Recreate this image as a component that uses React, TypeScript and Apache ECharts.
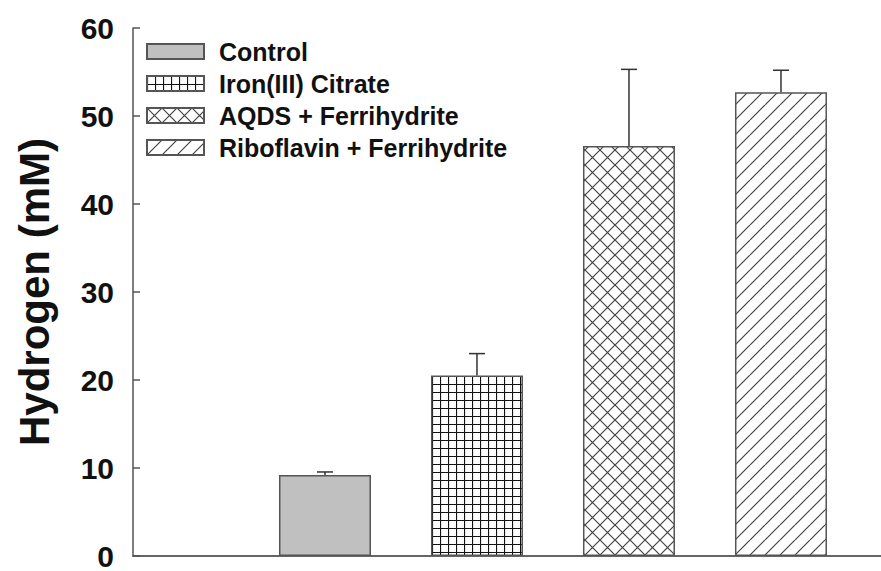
import React, { useEffect, useRef } from "react";
import * as echarts from "echarts";

const seriesNames = ["Control", "Iron(III) Citrate", "AQDS + Ferrihydrite", "Riboflavin + Ferrihydrite"];
const xPositions = [1, 2, 3, 4];
const hydrogenMeans = [9.2, 20.5, 46.6, 52.7];
const hydrogenErrors = [0.35, 2.5, 8.7, 2.5];
const yTicks = [0, 10, 20, 30, 40, 50, 60];

function makeTile(size: number, draw: (ctx: CanvasRenderingContext2D, s: number) => void) {
  const c = document.createElement("canvas");
  c.width = size;
  c.height = size;
  const ctx = c.getContext("2d")!;
  ctx.fillStyle = "#ffffff";
  ctx.fillRect(0, 0, size, size);
  draw(ctx, size);
  return c;
}

export default function App() {
  const ref = useRef<HTMLDivElement>(null);
  useEffect(() => {
    if (!ref.current) return;
    const chart = echarts.init(ref.current, undefined, { renderer: "svg" });

    const gridTile = makeTile(8, (ctx, s) => {
      ctx.strokeStyle = "#111";
      ctx.lineWidth = 1.2;
      ctx.beginPath();
      ctx.moveTo(0.5, 0);
      ctx.lineTo(0.5, s);
      ctx.moveTo(0, 0.5);
      ctx.lineTo(s, 0.5);
      ctx.stroke();
    });
    const crossTile = makeTile(15, (ctx, s) => {
      ctx.strokeStyle = "#444";
      ctx.lineWidth = 1.2;
      ctx.beginPath();
      for (const dx of [-s, 0, s]) {
        ctx.moveTo(dx, 0);
        ctx.lineTo(dx + s, s);
        ctx.moveTo(dx, s);
        ctx.lineTo(dx + s, 0);
      }
      ctx.stroke();
    });
    const diagTile = makeTile(15, (ctx, s) => {
      ctx.strokeStyle = "#444";
      ctx.lineWidth = 1.2;
      ctx.beginPath();
      for (const dx of [-s, 0, s]) {
        ctx.moveTo(dx, s);
        ctx.lineTo(dx + s, 0);
      }
      ctx.stroke();
    });

    const fills: any[] = [
      "#c0c0c0",
      { image: gridTile, repeat: "repeat" },
      { image: crossTile, repeat: "repeat" },
      { image: diagTile, repeat: "repeat" },
    ];

    const barSeries = seriesNames.map((name, i) => ({
      name,
      type: "bar",
      barWidth: 92,
      barGap: "-100%",
      data: [[xPositions[i], hydrogenMeans[i]]],
      itemStyle: { color: fills[i], borderColor: "#555", borderWidth: 1.5 },
      z: 2,
    }));

    const errData = xPositions.map((x, i) => [x, hydrogenMeans[i], hydrogenMeans[i] + hydrogenErrors[i]]);

    const option: any = {
      animation: false,
      backgroundColor: "#ffffff",
      grid: { left: 133, right: 0, top: 28, bottom: 11, containLabel: false },
      legend: {
        data: seriesNames,
        orient: "vertical",
        left: 141,
        top: 34,
        itemWidth: 57,
        itemHeight: 15,
        itemGap: 7,
        icon: "rect",
        textStyle: {
          fontFamily: "Liberation Sans, Arial, sans-serif",
          fontWeight: "bold",
          fontSize: 25,
          lineHeight: 25,
          color: "#111",
          padding: [0, 0, 0, 10],
        },
      },
      xAxis: {
        type: "value",
        min: -0.263,
        max: 4.658,
        axisLine: { show: true, onZero: false, lineStyle: { color: "#666", width: 2 } },
        axisTick: { show: false },
        axisLabel: { show: false },
        splitLine: { show: false },
      },
      yAxis: {
        type: "value",
        min: yTicks[0],
        max: yTicks[yTicks.length - 1],
        interval: 10,
        name: "Hydrogen (mM)",
        nameLocation: "middle",
        nameGap: 78,
        nameTextStyle: {
          fontFamily: "Liberation Sans, Arial, sans-serif",
          fontWeight: "bold",
          fontSize: 42,
          color: "#111",
        },
        axisLine: { show: true, onZero: false, lineStyle: { color: "#555", width: 1.5 } },
        axisTick: { show: true, inside: true, length: 7, lineStyle: { color: "#555", width: 1.5 } },
        axisLabel: {
          margin: 19,
          fontFamily: "Liberation Sans, Arial, sans-serif",
          fontWeight: "bold",
          fontSize: 30,
          color: "#111",
        },
        splitLine: { show: false },
      },
      series: [
        ...barSeries,
        {
          type: "custom",
          name: "err",
          z: 3,
          data: errData,
          encode: { x: 0, y: [1, 2] },
          renderItem: (params: any, api: any) => {
            const x = api.value(0);
            const p0 = api.coord([x, api.value(1)]);
            const p1 = api.coord([x, api.value(2)]);
            const half = 8;
            const st = { stroke: "#333", lineWidth: 1.5 };
            return {
              type: "group",
              children: [
                { type: "line", shape: { x1: p0[0], y1: p0[1], x2: p1[0], y2: p1[1] }, style: st },
                { type: "line", shape: { x1: p1[0] - half, y1: p1[1], x2: p1[0] + half, y2: p1[1] }, style: st },
              ],
            };
          },
        },
      ],
    };
    chart.setOption(option);
    return () => chart.dispose();
  }, []);
  return <div ref={ref} style={{ position: "fixed", left: 0, top: 0, width: 881, height: 571 }} />;
}
